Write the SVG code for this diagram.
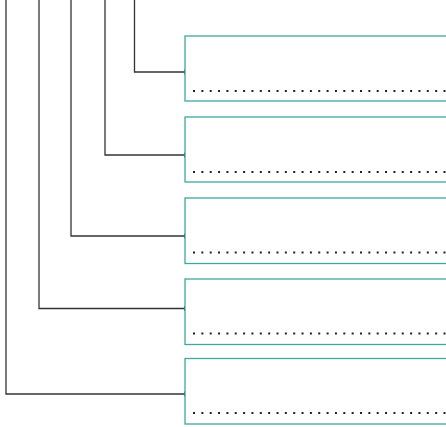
<svg xmlns="http://www.w3.org/2000/svg" width="446" height="427" viewBox="0 0 446 427">
<style>
.box{fill:#fff;stroke:#3ea79e;stroke-width:1.3}
.dots{stroke:#222;stroke-width:2;stroke-dasharray:2 6.35;fill:none}
.conn{fill:none;stroke:#333;stroke-width:1.3}
.tick{stroke:#333;stroke-width:1.6}
</style>
<g id="connectors">
<path class="conn" d="M134.5 0V72H185"/>
<path class="conn" d="M105 0V155H185"/>
<path class="conn" d="M71 0V236H185"/>
<path class="conn" d="M39 0V308.5H185"/>
<path class="conn" d="M6 0V394H185"/>
<path class="tick" d="M185 69.5V74.5M185 152.5V157.5M185 233.5V238.5M185 306V311M185 391.5V396.5"/>
</g>
<g id="node1"><rect class="box" x="185" y="36" width="280" height="65"/><line class="dots" x1="193" y1="91" x2="450" y2="91"/></g>
<g id="node2"><rect class="box" x="185" y="117" width="280" height="65"/><line class="dots" x1="193" y1="172" x2="450" y2="172"/></g>
<g id="node3"><rect class="box" x="185" y="198" width="280" height="65.5"/><line class="dots" x1="193" y1="252.5" x2="450" y2="252.5"/></g>
<g id="node4"><rect class="box" x="185" y="279" width="280" height="65.5"/><line class="dots" x1="193" y1="333.5" x2="450" y2="333.5"/></g>
<g id="node5"><rect class="box" x="185" y="358.5" width="280" height="65.5"/><line class="dots" x1="193" y1="413" x2="450" y2="413"/></g>
</svg>
